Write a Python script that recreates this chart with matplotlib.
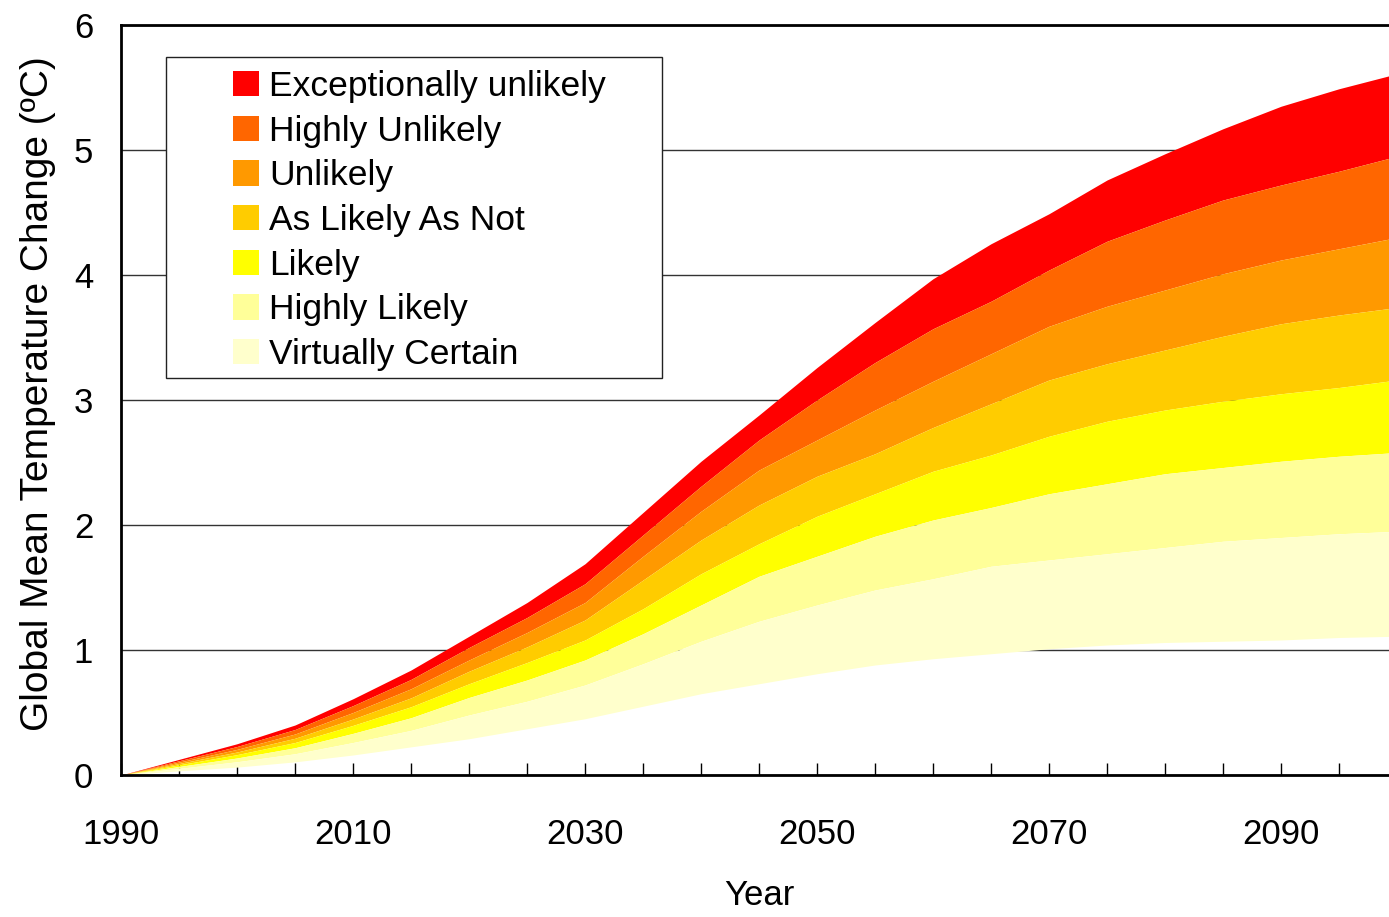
import matplotlib
matplotlib.use("Agg")
import matplotlib.pyplot as plt
from matplotlib.patches import Patch, Rectangle

plt.rcParams['font.family'] = ['Liberation Sans', 'DejaVu Sans']

# años (cada 5)
years = [1990, 1995, 2000, 2005, 2010, 2015, 2020, 2025, 2030, 2035, 2040, 2045,
         2050, 2055, 2060, 2065, 2070, 2075, 2080, 2085, 2090, 2095, 2100]

# limites de las bandas, de abajo hacia arriba
b_bottom = [0, 0.033, 0.063, 0.105, 0.16, 0.225, 0.29, 0.37, 0.45, 0.55, 0.65, 0.73,
            0.81, 0.88, 0.93, 0.97, 1.01, 1.04, 1.06, 1.07, 1.08, 1.10, 1.11]
b_virtual = [0, 0.053, 0.106, 0.17, 0.26, 0.357, 0.48, 0.59, 0.72, 0.89, 1.07, 1.23,
             1.36, 1.48, 1.57, 1.67, 1.72, 1.77, 1.82, 1.87, 1.90, 1.93, 1.95]
b_highly_likely = [0, 0.068, 0.136, 0.218, 0.333, 0.458, 0.62, 0.76, 0.92, 1.13, 1.36, 1.59,
                   1.75, 1.91, 2.04, 2.14, 2.25, 2.33, 2.41, 2.46, 2.51, 2.55, 2.58]
b_likely = [0, 0.081, 0.163, 0.26, 0.397, 0.546, 0.73, 0.90, 1.08, 1.33, 1.61, 1.85,
            2.07, 2.25, 2.43, 2.56, 2.71, 2.83, 2.92, 2.99, 3.05, 3.10, 3.16]
b_as_likely = [0, 0.092, 0.184, 0.294, 0.448, 0.617, 0.83, 1.025, 1.24, 1.56, 1.88, 2.16,
               2.39, 2.57, 2.78, 2.97, 3.16, 3.29, 3.40, 3.51, 3.61, 3.68, 3.74]
b_unlikely = [0, 0.103, 0.205, 0.328, 0.50, 0.69, 0.92, 1.14, 1.38, 1.75, 2.11, 2.44,
              2.68, 2.92, 3.15, 3.37, 3.59, 3.75, 3.88, 4.01, 4.12, 4.21, 4.30]
b_highly_unlikely = [0, 0.114, 0.228, 0.364, 0.555, 0.765, 1.02, 1.26, 1.53, 1.92, 2.31, 2.68,
                     3.00, 3.30, 3.57, 3.79, 4.04, 4.27, 4.44, 4.60, 4.72, 4.83, 4.95]
b_top = [0, 0.125, 0.25, 0.40, 0.61, 0.84, 1.11, 1.38, 1.69, 2.10, 2.51, 2.88,
         3.26, 3.62, 3.97, 4.25, 4.49, 4.76, 4.97, 5.17, 5.35, 5.49, 5.61]

labels = ['Exceptionally unlikely', 'Highly Unlikely', 'Unlikely', 'As Likely As Not',
          'Likely', 'Highly Likely', 'Virtually Certain']
colors = ['#FF0000', '#FF6600', '#FF9900', '#FFCC00', '#FFFF00', '#FFFF99', '#FFFFCC']

bounds = [b_top, b_highly_unlikely, b_unlikely, b_as_likely, b_likely,
          b_highly_likely, b_virtual, b_bottom]

fig = plt.figure(figsize=(13.89, 9.17), dpi=100)
ax = fig.add_axes([121 / 1389, 142 / 917, 1276 / 1389, 750 / 917])

for i in range(7):
    ax.fill_between(years, bounds[i + 1], bounds[i], color=colors[i], linewidth=0, zorder=2)

ax.set_xlim(1990, 2100)
ax.set_ylim(0, 6)
ax.set_axisbelow(True)
ax.yaxis.grid(True, color='#333333', linewidth=1.0)

ax.set_xticks(range(1990, 2100, 20))
ax.set_xticks(range(1990, 2101, 5), minor=True)
ax.set_yticks(range(0, 7))
ax.tick_params(axis='x', which='both', direction='in', length=8.5, width=1.0,
               labelsize=25, pad=31, top=False)
ax.tick_params(axis='y', length=0, labelsize=25, pad=20)

for s in ax.spines.values():
    s.set_linewidth(2)

ax.set_xlabel('Year', fontsize=25, labelpad=20)
ax.set_ylabel('Global Mean Temperature Change (ºC)', fontsize=28, labelpad=13)
ax.yaxis.label.set_y(0.508)

# caja de la leyenda
box = Rectangle((45 / 1276, 397 / 750), 496 / 1276, 321 / 750, transform=ax.transAxes,
                facecolor='white', edgecolor='#222222', linewidth=1.0, zorder=4)
ax.add_patch(box)

handles = [Patch(facecolor=c, edgecolor='none') for c in colors]
leg = ax.legend(handles, labels, loc='upper left', bbox_to_anchor=(112 / 1276, 0.94),
                frameon=False, fontsize=25.5, handlelength=0.73, handleheight=0.73,
                handletextpad=0.3, labelspacing=0.33, borderpad=0, borderaxespad=0)
leg.set_zorder(5)

fig.savefig('out.png', dpi=100)
